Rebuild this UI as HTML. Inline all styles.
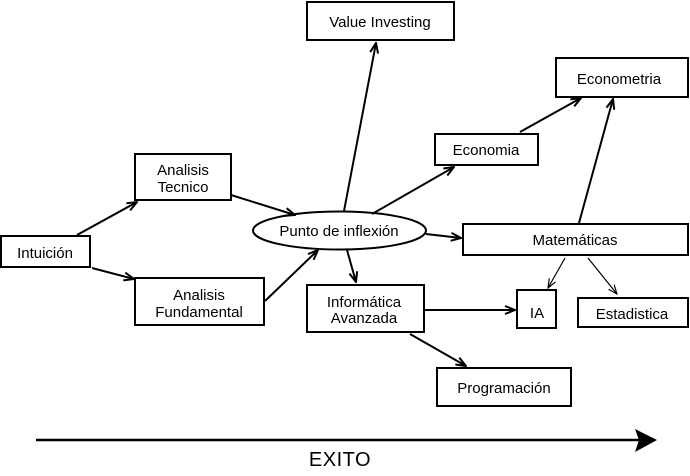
<!DOCTYPE html>
<html>
<head>
<meta charset="utf-8">
<style>
html,body{margin:0;padding:0;background:#fff;}
svg{display:block;}
text{font-family:"Liberation Sans",Arial,sans-serif;font-size:15px;fill:#000;}
</style>
</head>
<body>
<svg width="690" height="476" viewBox="0 0 690 476" xmlns="http://www.w3.org/2000/svg">
<defs>
<marker id="a" viewBox="0 0 12 10" refX="11" refY="5" markerWidth="12" markerHeight="10" markerUnits="userSpaceOnUse" orient="auto">
<path d="M1,1 L11,5 L1,9" fill="none" stroke="#000" stroke-width="2"/>
</marker>
<marker id="b" viewBox="0 0 12 10" refX="11" refY="5" markerWidth="11" markerHeight="9" markerUnits="userSpaceOnUse" orient="auto">
<path d="M1,1 L11,5 L1,9" fill="none" stroke="#000" stroke-width="1.3"/>
</marker>
</defs>
<rect width="690" height="476" fill="#fff"/>

<g fill="none" stroke="#000" stroke-width="2">
<rect x="1" y="236" width="89" height="31"/>
<rect x="135" y="154" width="96" height="46"/>
<rect x="135" y="278" width="129" height="47"/>
<rect x="307" y="2" width="147" height="38"/>
<rect x="435" y="134" width="103" height="31"/>
<rect x="556" y="58" width="132" height="39"/>
<rect x="463" y="224" width="225" height="31"/>
<rect x="517" y="290" width="39" height="38"/>
<rect x="578" y="298" width="110" height="29"/>
<rect x="307" y="285" width="117" height="47"/>
<rect x="437" y="368" width="134" height="38"/>
<ellipse cx="339.5" cy="230.5" rx="86.5" ry="19"/>
</g>

<g fill="none" stroke="#000" stroke-width="2">
<line x1="77" y1="235" x2="137" y2="202" marker-end="url(#a)"/>
<line x1="92" y1="268" x2="134" y2="279" marker-end="url(#a)"/>
<line x1="231" y1="195" x2="295" y2="215" marker-end="url(#a)"/>
<line x1="265" y1="301" x2="318" y2="250" marker-end="url(#a)"/>
<line x1="344" y1="211" x2="376" y2="43" marker-end="url(#a)"/>
<line x1="372" y1="214" x2="454" y2="167" marker-end="url(#a)"/>
<line x1="426" y1="234" x2="461" y2="238" marker-end="url(#a)"/>
<line x1="347" y1="250" x2="356" y2="282" marker-end="url(#a)"/>
<line x1="520" y1="132" x2="581" y2="98" marker-end="url(#a)"/>
<line x1="579" y1="223" x2="613" y2="99" marker-end="url(#a)"/>
<line x1="424" y1="310" x2="515" y2="310" marker-end="url(#a)"/>
<line x1="410" y1="334" x2="466" y2="366" marker-end="url(#a)"/>
</g>
<g fill="none" stroke="#000" stroke-width="1.2">
<line x1="565" y1="258" x2="548" y2="288" marker-end="url(#b)"/>
<line x1="588" y1="258" x2="617" y2="294" marker-end="url(#b)"/>
</g>

<line x1="36" y1="440" x2="640" y2="440" stroke="#000" stroke-width="2.5"/>
<path d="M635,429 L657,440 L635,452 L639,440 Z" fill="#000"/>

<g text-anchor="middle">
<text x="45" y="258">Intuición</text>
<text x="183" y="175">Analisis</text>
<text x="183" y="192">Tecnico</text>
<text x="199" y="300">Analisis</text>
<text x="199" y="317">Fundamental</text>
<text x="380" y="27">Value Investing</text>
<text x="339" y="236">Punto de inflexión</text>
<text x="486" y="155">Economia</text>
<text x="619" y="84">Econometria</text>
<text x="575" y="245">Matemáticas</text>
<text x="537" y="318">IA</text>
<text x="632" y="319">Estadistica</text>
<text x="364" y="307">Informática</text>
<text x="364" y="323">Avanzada</text>
<text x="504" y="393">Programación</text>
<text x="340" y="466" style="font-size:20px;letter-spacing:0.5px">EXITO</text>
</g>
</svg>
</body>
</html>
